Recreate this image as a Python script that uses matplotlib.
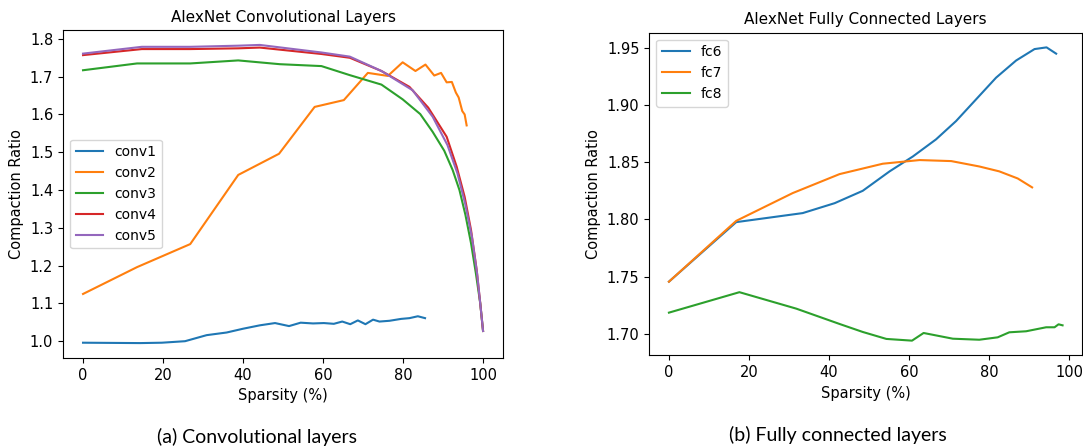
import matplotlib
matplotlib.use("Agg")
import matplotlib.pyplot as plt

# ---- Convolutional layers: sparsity (%) vs compaction ratio ----
conv1_x = [0, 14.3, 19.7, 25.5, 30.9, 35.9, 40.0, 44.2, 48.0, 51.5, 54.4, 57.5,
           60.2, 62.7, 64.8, 66.8, 68.7, 70.6, 72.5, 74.1, 76.6, 79.5, 81.6, 83.7, 85.5]
conv1_y = [0.996, 0.995, 0.996, 1.000, 1.016, 1.023, 1.033, 1.042, 1.048, 1.040, 1.049, 1.047,
           1.048, 1.046, 1.052, 1.045, 1.055, 1.045, 1.057, 1.052, 1.054, 1.059, 1.061, 1.066, 1.061]

conv2_x = [0, 13.5, 26.8, 38.8, 49.0, 57.9, 65.2, 71.2, 76.2, 79.9, 83.1, 85.6,
           87.8, 89.5, 90.9, 92.2, 93.2, 93.9, 94.8, 95.4, 95.9]
conv2_y = [1.125, 1.196, 1.257, 1.440, 1.496, 1.620, 1.638, 1.710, 1.702, 1.738, 1.715, 1.732,
           1.703, 1.710, 1.685, 1.686, 1.658, 1.645, 1.609, 1.600, 1.571]

conv3_x = [0, 13.5, 26.8, 38.8, 49.2, 59.6, 66.7, 74.6, 79.9, 84.3, 87.4, 90.3,
           92.4, 94.1, 95.6, 97.0, 98.2, 99.3, 100.0]
conv3_y = [1.717, 1.735, 1.735, 1.743, 1.733, 1.728, 1.704, 1.679, 1.640, 1.601, 1.554, 1.504,
           1.453, 1.400, 1.334, 1.259, 1.180, 1.100, 1.027]

conv4_x = [0, 14.7, 26.8, 38.8, 44.2, 59.6, 66.7, 74.6, 81.6, 86.3, 90.9, 93.4,
           95.4, 97.0, 98.4, 99.3, 100.0]
conv4_y = [1.757, 1.773, 1.773, 1.775, 1.777, 1.760, 1.750, 1.715, 1.673, 1.618, 1.541, 1.462,
           1.382, 1.294, 1.189, 1.100, 1.027]

conv5_x = [0, 14.7, 26.8, 38.8, 44.2, 59.6, 66.7, 74.6, 82.4, 87.4, 91.1, 93.6,
           95.5, 97.2, 98.5, 99.3, 100.0]
conv5_y = [1.761, 1.779, 1.779, 1.782, 1.784, 1.764, 1.753, 1.715, 1.664, 1.594, 1.519, 1.444,
           1.365, 1.277, 1.180, 1.100, 1.027]

# ---- Fully connected layers ----
fc6_x = [0, 16.8, 33.4, 41.4, 48.4, 55.1, 60.9, 66.7, 71.7, 76.7, 81.7, 86.7, 91.3, 94.3, 96.7]
fc6_y = [1.7455, 1.7976, 1.8055, 1.8142, 1.8250, 1.8420, 1.8550, 1.8700, 1.8860, 1.9050,
         1.9240, 1.9390, 1.9490, 1.9505, 1.9450]

fc7_x = [0, 16.8, 30.9, 42.6, 53.4, 62.6, 70.5, 77.5, 82.5, 87.1, 90.7]
fc7_y = [1.7455, 1.7987, 1.8230, 1.8396, 1.8487, 1.8519, 1.8510, 1.8463, 1.8420, 1.8358, 1.8280]

fc8_x = [0, 17.6, 31.8, 42.6, 48.4, 54.3, 60.7, 63.6, 70.9, 77.5, 82.1, 85.0,
         89.2, 94.2, 96.3, 97.3, 98.3]
fc8_y = [1.7184, 1.7363, 1.7219, 1.7085, 1.7015, 1.6954, 1.6939, 1.7006, 1.6956, 1.6947,
         1.6968, 1.7012, 1.7021, 1.7056, 1.7056, 1.7082, 1.7073]

fig = plt.figure(figsize=(10.83, 4.48), dpi=100)
ax1 = fig.add_axes([0.0582, 0.2009, 0.4063, 0.7321])
ax2 = fig.add_axes([0.5995, 0.2069, 0.3998, 0.7201])

conv_series = [("conv1", conv1_x, conv1_y), ("conv2", conv2_x, conv2_y),
               ("conv3", conv3_x, conv3_y), ("conv4", conv4_x, conv4_y),
               ("conv5", conv5_x, conv5_y)]
for name, xs, ys in conv_series:
    ax1.plot(xs, ys, label=name)
ax1.set_title("AlexNet Convolutional Layers", fontsize=11)
ax1.set_xlabel("Sparsity (%)", fontsize=10.5)
ax1.set_ylabel("Compaction Ratio", fontsize=10.5)
ax1.set_xticks([0, 20, 40, 60, 80, 100])
ax1.set_yticks([1.0, 1.1, 1.2, 1.3, 1.4, 1.5, 1.6, 1.7, 1.8])
ax1.tick_params(labelsize=10.5)
ax1.legend(loc="center left", fontsize=10)

fc_series = [("fc6", fc6_x, fc6_y), ("fc7", fc7_x, fc7_y), ("fc8", fc8_x, fc8_y)]
for name, xs, ys in fc_series:
    ax2.plot(xs, ys, label=name)
ax2.set_title("AlexNet Fully Connected Layers", fontsize=11)
ax2.set_xlabel("Sparsity (%)", fontsize=10.5)
ax2.set_ylabel("Compaction Ratio", fontsize=10.5)
ax2.set_xticks([0, 20, 40, 60, 80, 100])
ax2.set_yticks([1.70, 1.75, 1.80, 1.85, 1.90, 1.95])
ax2.tick_params(labelsize=10.5)
ax2.legend(loc="upper left", fontsize=10)

fig.text(257 / 1083, 1 - 437 / 448, "(a) Convolutional layers", ha="center", va="center",
         fontsize=14, family="Lato")
fig.text(838 / 1083, 1 - 435 / 448, "(b) Fully connected layers", ha="center", va="center",
         fontsize=14, family="Lato")

fig.savefig("out.png", dpi=100)
